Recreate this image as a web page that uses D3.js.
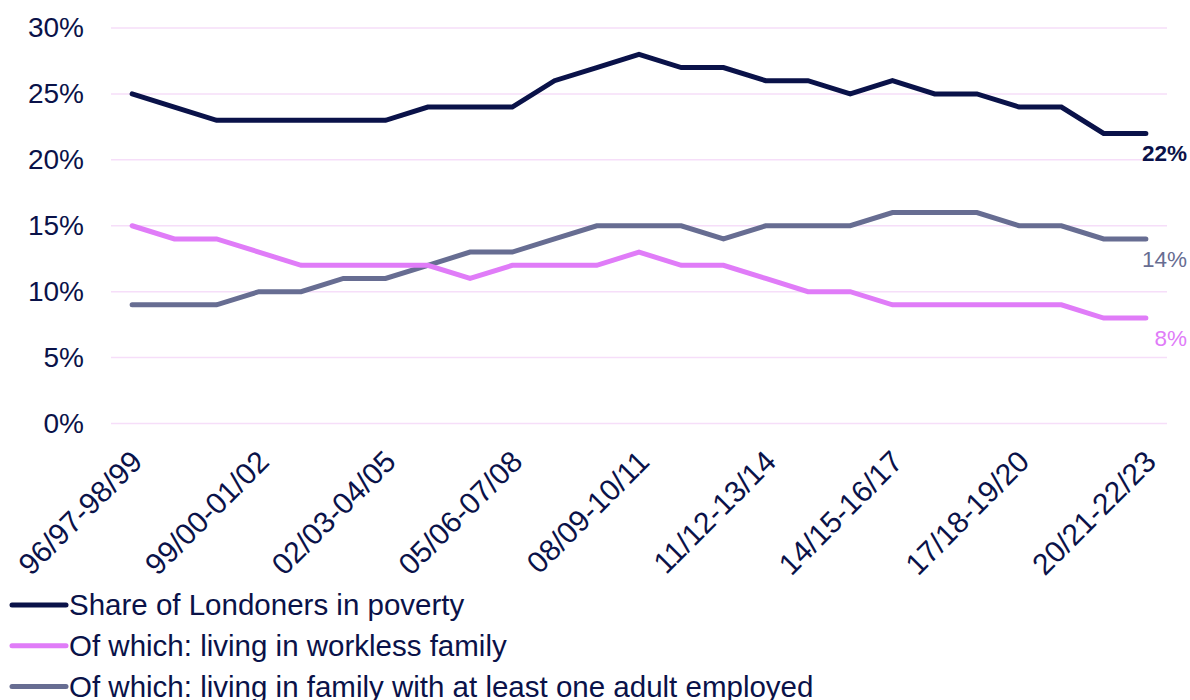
<!DOCTYPE html>
<html>
<head>
<meta charset="utf-8">
<script src="https://cdn.jsdelivr.net/npm/d3@7"></script>
<style>
  html, body { margin: 0; padding: 0; background: #ffffff; }
  svg { display: block; font-family: "Liberation Sans", Arial, sans-serif; }
</style>
</head>
<body>
<svg id="chart" width="1190" height="700"></svg>
<script>
const categories = [
  "96/97-98/99","97/98-99/00","98/99-00/01","99/00-01/02","00/01-02/03",
  "01/02-03/04","02/03-04/05","03/04-05/06","04/05-06/07","05/06-07/08",
  "06/07-08/09","07/08-09/10","08/09-10/11","09/10-11/12","10/11-12/13",
  "11/12-13/14","12/13-14/15","13/14-15/16","14/15-16/17","15/16-17/18",
  "16/17-18/19","17/18-19/20","18/19-20/21","19/20-21/22","20/21-22/23"
];
const shareInPoverty = [25,24,23,23,23,23,23,24,24,24,26,27,28,27,27,26,26,25,26,25,25,24,24,22,22];
const workless       = [15,14,14,13,12,12,12,12,11,12,12,12,13,12,12,11,10,10,9,9,9,9,9,8,8];
const employed       = [9,9,9,10,10,11,11,12,13,13,14,15,15,15,14,15,15,15,16,16,16,15,15,14,14];
const yTicks = [0, 5, 10, 15, 20, 25, 30];
const seriesNames = [
  "Share of Londoners in poverty",
  "Of which: living in workless family",
  "Of which: living in family with at least one adult employed"
];

const navy = "#0a1249";
const pink = "#e07cf8";
const grey = "#676d92";
const gridColor = "#f6def9";

const series = [
  { name: seriesNames[0], values: shareInPoverty, color: navy, labelWeight: "bold" },
  { name: seriesNames[1], values: workless, color: pink, labelWeight: "normal" },
  { name: seriesNames[2], values: employed, color: grey, labelWeight: "normal" }
];

const svg = d3.select("#chart");
const plotLeft = 111, plotRight = 1167, plotTop = 28, plotBottom = 423.5;

const x = d3.scaleBand().domain(categories).range([plotLeft, plotRight]).padding(0);
const y = d3.scaleLinear().domain([0, 30]).range([plotBottom, plotTop]);
const cx = c => x(c) + x.bandwidth() / 2;

// gridlines
svg.append("g").selectAll("line").data(yTicks).join("line")
  .attr("x1", plotLeft).attr("x2", plotRight)
  .attr("y1", d => y(d)).attr("y2", d => y(d))
  .attr("stroke", gridColor).attr("stroke-width", 1.5);

// y axis labels
const yAxis = d3.axisLeft(y).tickValues(yTicks).tickFormat(d => d + "%").tickSize(0).tickPadding(0);
const yg = svg.append("g").attr("transform", `translate(84,0)`).call(yAxis);
yg.select(".domain").remove();
yg.selectAll("text").attr("fill", navy).attr("font-size", 28)
  .attr("font-family", "'Liberation Sans', Arial, sans-serif");

// x axis labels
const xAxis = d3.axisBottom(x).tickValues(categories.filter((d, i) => i % 3 === 0)).tickSize(0).tickPadding(0);
const xg = svg.append("g").attr("transform", `translate(0,${plotBottom})`).call(xAxis);
xg.select(".domain").remove();
xg.selectAll(".tick text")
  .attr("fill", navy).attr("font-size", 30)
  .attr("font-family", "'Liberation Sans', Arial, sans-serif")
  .attr("text-anchor", "end")
  .attr("dy", null).attr("y", 0)
  .attr("transform", "translate(12,40) rotate(-45)");

// lines
const line = d3.line().x((d, i) => cx(categories[i])).y(d => y(d));
svg.append("g").selectAll("path").data(series.slice().reverse()).join("path")
  .attr("d", d => line(d.values))
  .attr("fill", "none").attr("stroke", d => d.color)
  .attr("stroke-width", 5).attr("stroke-linecap", "round").attr("stroke-linejoin", "miter");

// end labels
svg.append("g").selectAll("text").data(series).join("text")
  .attr("x", 1187)
  .attr("y", d => y(d.values[d.values.length - 1]) + 28)
  .attr("text-anchor", "end")
  .attr("font-size", 22.5)
  .attr("font-weight", d => d.labelWeight)
  .attr("fill", d => d.color)
  .text(d => d.values[d.values.length - 1] + "%");

// legend
const lg = svg.append("g").selectAll("g").data(series).join("g")
  .attr("transform", (d, i) => `translate(0,${605 + i * 40.7})`);
lg.append("line").attr("x1", 12).attr("x2", 66).attr("y1", 0).attr("y2", 0)
  .attr("stroke", d => d.color).attr("stroke-width", 5).attr("stroke-linecap", "round");
lg.append("text").attr("x", 69).attr("y", 0).attr("dy", "0.35em")
  .attr("font-size", 29.5).attr("fill", navy).text(d => d.name);
</script>
</body>
</html>
